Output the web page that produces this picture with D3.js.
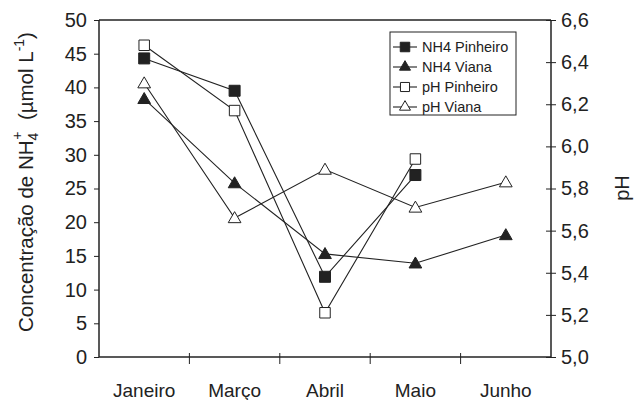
<!DOCTYPE html>
<html>
<head>
<meta charset="utf-8">
<script src="https://cdn.jsdelivr.net/npm/d3@7"></script>
<style>
body { margin: 0; background: #fff; }
svg text { font-family: "Liberation Sans", Arial, sans-serif; fill: #222; }
</style>
</head>
<body>
<div id="chart"></div>
<script>
var months = ["Janeiro", "Março", "Abril", "Maio", "Junho"]
var nh4Pinheiro = [44.3, 39.5, 11.9, 27.0, null]
var nh4Viana = [38.3, 25.8, 15.3, 13.9, 18.1]
var phPinheiro = [6.48, 6.17, 5.21, 5.94, null]
var phViana = [6.30, 5.66, 5.89, 5.71, 5.83]
var leftTicks = [0, 5, 10, 15, 20, 25, 30, 35, 40, 45, 50]
var rightTicks = [5.0, 5.2, 5.4, 5.6, 5.8, 6.0, 6.2, 6.4, 6.6]
var legendNames = ["NH4 Pinheiro", "NH4 Viana", "pH Pinheiro", "pH Viana"]

var width = 636, height = 400
var margin = {top: 20, right: 85, bottom: 43, left: 99}
var w = width - margin.left - margin.right
var h = height - margin.top - margin.bottom

var svg = d3.select("#chart").append("svg")
	.attr("width", width)
	.attr("height", height)
var g = svg.append("g").attr("transform", "translate(" + margin.left + "," + margin.top + ")")

var x = d3.scaleBand().domain(months).range([0, w])
var yL = d3.scaleLinear().domain([0, 50]).range([h, 0])
var yR = d3.scaleLinear().domain([5.0, 6.6]).range([h, 0])

// frame top line
g.append("line").attr("x1", 0).attr("x2", w).attr("y1", 0).attr("y2", 0)
	.attr("stroke", "#222").attr("stroke-width", 1.5)

var fmtR = function(d){ return d.toFixed(1).replace(".", ",") }

var axL = g.append("g").call(d3.axisLeft(yL).tickValues(leftTicks).tickSize(5).tickPadding(7))
var axR = g.append("g").attr("transform", "translate(" + w + ",0)")
	.call(d3.axisRight(yR).tickValues(rightTicks).tickFormat(fmtR).tickSize(5).tickPadding(5))
axR.selectAll(".tick line").attr("x1", -5)

// x axis: ticks at band boundaries
var axX = g.append("g").attr("transform", "translate(0," + h + ")")
axX.append("line").attr("x1", 0).attr("x2", w).attr("stroke", "#222").attr("stroke-width", 1.5)
axX.selectAll(".bnd").data(months.slice(1)).enter().append("line")
	.attr("x1", function(d){ return x(d) }).attr("x2", function(d){ return x(d) })
	.attr("y1", -4).attr("y2", 7).attr("stroke", "#222")
axX.selectAll(".lab").data(months).enter().append("text")
	.attr("x", function(d){ return x(d) + x.bandwidth() / 2 })
	.attr("y", 40)
	.attr("text-anchor", "middle")
	.attr("font-size", 19)
	.text(function(d){ return d })

;[axL, axR].forEach(function(a){
	a.selectAll(".domain").attr("stroke", "#222").attr("stroke-width", 1.5)
	a.selectAll(".tick line").attr("stroke", "#222")
	a.selectAll(".tick text").attr("font-size", 20).attr("fill", "#222")
		.style("font-family", "Liberation Sans, Arial, sans-serif")
})
axL.select(".domain").attr("d", "M0," + h + "V0")
axR.select(".domain").attr("d", "M0," + h + "V0")

// axis titles
var tl = svg.append("text")
	.attr("transform", "translate(33,182) rotate(-90)")
	.attr("text-anchor", "middle")
	.attr("font-size", 20.5)
tl.append("tspan").text("Concentração de NH")
tl.append("tspan").attr("font-size", 14).attr("dy", 5).text("4")
tl.append("tspan").attr("font-size", 14).attr("dy", -16).attr("dx", -7).text("+")
tl.append("tspan").attr("dy", 11).text("\u00a0\u00a0(µmol L")
tl.append("tspan").attr("font-size", 14).attr("dy", -9).text("-1")
tl.append("tspan").attr("dy", 9).text(")")

svg.append("text")
	.attr("transform", "translate(629,188) rotate(-90)")
	.attr("text-anchor", "middle")
	.attr("font-size", 20)
	.text("pH")

var cx = function(i){ return x(months[i]) + x.bandwidth() / 2 }
var series = [
	{vals: nh4Pinheiro, y: yL, shape: d3.symbolSquare, fill: "#222", size: 121},
	{vals: nh4Viana, y: yL, shape: d3.symbolTriangle, fill: "#222", size: 70},
	{vals: phPinheiro, y: yR, shape: d3.symbolSquare, fill: "#fff", size: 110},
	{vals: phViana, y: yR, shape: d3.symbolTriangle, fill: "#fff", size: 70}
]

series.forEach(function(s){
	var line = d3.line()
		.defined(function(d){ return d != null })
		.x(function(d, i){ return cx(i) })
		.y(function(d){ return s.y(d) })
	g.append("path").datum(s.vals).attr("d", line)
		.attr("fill", "none").attr("stroke", "#222").attr("stroke-width", 1.1)
})
series.slice().reverse().forEach(function(s){
	g.selectAll(null).data(s.vals.map(function(v, i){ return {v: v, i: i} }).filter(function(d){ return d.v != null }))
		.enter().append("path")
		.attr("d", d3.symbol().type(s.shape).size(s.size))
		.attr("transform", function(d){ return "translate(" + cx(d.i) + "," + (s.y(d.v) + (s.shape === d3.symbolTriangle ? 1 : 0)) + ")" })
		.attr("fill", s.fill).attr("stroke", "#222").attr("stroke-width", 1)
})

// legend
var lg = svg.append("g").attr("transform", "translate(390,32)")
lg.append("rect").attr("width", 126).attr("height", 83)
	.attr("fill", "#fff").attr("stroke", "#222").attr("stroke-width", 1)
legendNames.forEach(function(name, i){
	var s = series[i]
	var yy = 15 + i * 20
	lg.append("line").attr("x1", 3).attr("x2", 27).attr("y1", yy).attr("y2", yy)
		.attr("stroke", "#222").attr("stroke-width", 1.1)
	lg.append("path")
		.attr("d", d3.symbol().type(s.shape).size(s.size * 0.75))
		.attr("transform", "translate(15," + yy + ")")
		.attr("fill", s.fill).attr("stroke", "#222")
	lg.append("text").attr("x", 32).attr("y", yy + 5)
		.attr("font-size", 14.5).text(name)
})
</script>
</body>
</html>
